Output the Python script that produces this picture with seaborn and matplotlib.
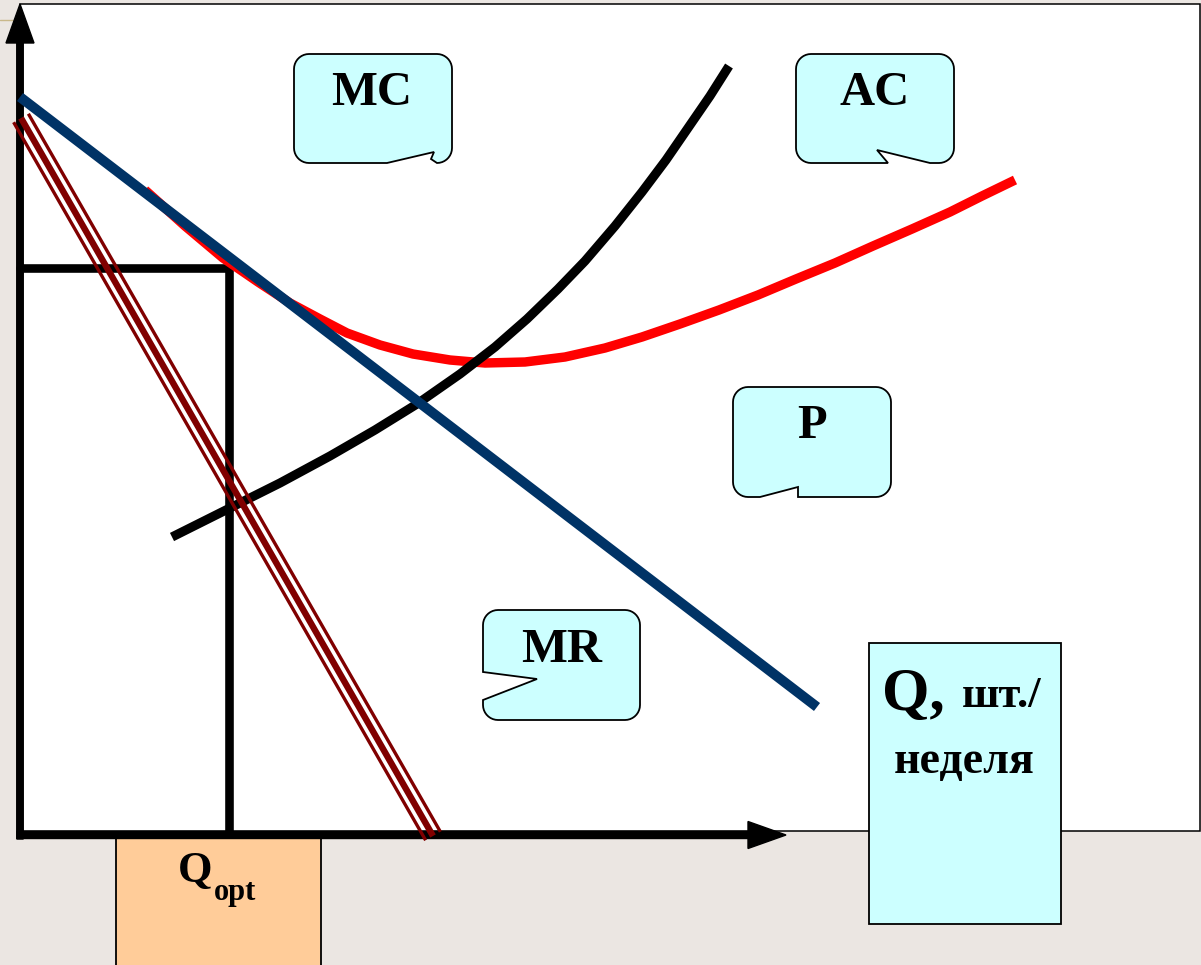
import numpy as np
import matplotlib
matplotlib.use("Agg")
import matplotlib.pyplot as plt
from matplotlib.patches import Polygon, Rectangle, FancyArrow
import seaborn as sns

## curve data: Q (quantity) on x, P (price) on y
demand_q = [0.0, 7.97]
demand_p = [7.37, 1.27]

mr_q = [0.01, 4.13]
mr_p = [7.16, -0.02]

mc_q = [1.52, 2.10, 2.60, 3.10, 3.55, 3.97, 4.40, 4.75, 5.07, 5.38, 5.65, 5.95, 6.22, 6.46, 6.68, 6.90, 7.09]
mc_p = [2.97, 3.26, 3.51, 3.78, 4.04, 4.30, 4.60, 4.87, 5.15, 5.45, 5.73, 6.08, 6.42, 6.74, 7.06, 7.38, 7.68]

ac_q = [1.25, 1.65, 2.03, 2.38, 2.70, 3.00, 3.27, 3.60, 3.93, 4.30, 4.65, 5.05, 5.45, 5.85, 6.22, 6.60,
        6.99, 7.38, 7.76, 8.15, 8.53, 8.92, 9.30, 9.62, 9.95]
ac_p = [6.44, 6.08, 5.76, 5.52, 5.31, 5.15, 5.01, 4.89, 4.80, 4.74, 4.71, 4.72, 4.77, 4.86, 4.97, 5.10,
        5.24, 5.39, 5.55, 5.71, 5.88, 6.05, 6.22, 6.38, 6.54]

q_opt = 2.09
p_opt = 5.66

box_labels = ["MC", "AC", "P", "MR"]

BEIGE = "#ebe6e2"
CYAN = "#ccffff"
ORANGE = "#ffcc99"
NAVY = "#003366"
MAROON = "#800000"


def px(x, y):
    # reference picture pixels -> data units (origin at the axes corner, 100 px per unit)
    return ((x - 20) / 100.0, (834 - y) / 100.0)


def callout(ax, x0, y0, x1, y1, bottom=(), left=(), r=15):
    pts = []

    def arc(cx, cy, a0, a1):
        for t in np.radians(np.linspace(a0, a1, 10)):
            pts.append((cx + r * np.cos(t), cy + r * np.sin(t)))

    arc(x0 + r, y0 + r, 180, 270)
    arc(x1 - r, y0 + r, 270, 360)
    arc(x1 - r, y1 - r, 0, 90)
    pts.extend(bottom)
    arc(x0 + r, y1 - r, 90, 180)
    pts.extend(left)
    poly = Polygon([px(*p) for p in pts], closed=True, fc=CYAN, ec="black", lw=1.3, zorder=6)
    ax.add_patch(poly)


sns.set_theme(style="white")
plt.rcParams['font.family'] = ['Liberation Serif', 'DejaVu Serif']
plt.rcParams['text.color'] = 'black'

fig = plt.figure(figsize=(12.01, 9.65), dpi=100)
fig.patch.set_facecolor(BEIGE)
ax = fig.add_axes([0, 0, 1, 1])
ax.set_xlim(-0.20, 11.81)
ax.set_ylim(-1.31, 8.34)
ax.axis("off")

## slide area
x0, y0 = px(20, 4)
x1, y1 = px(1200, 831)
ax.add_patch(Rectangle((x0, y1), x1 - x0, y0 - y1, fc="white", ec="black", lw=1.1, zorder=0))
ax.plot([px(0, 20)[0], px(13, 20)[0]], [px(0, 20)[1]] * 2, color="#c9b88a", lw=1, zorder=0)

## Q_opt box under the axis
bx0, by0 = px(116, 836)
bx1, by1 = px(321, 975)
ax.add_patch(Rectangle((bx0, by1), bx1 - bx0, by0 - by1, fc=ORANGE, ec="black", lw=1.3, zorder=1))

## axes with arrows
ax.add_patch(FancyArrow(0, -0.05, 0, 8.35, width=0.065, head_width=0.28, head_length=0.39,
                        length_includes_head=True, color="black", zorder=3))
ax.add_patch(FancyArrow(-0.03, -0.01, 7.69, 0, width=0.07, head_width=0.27, head_length=0.38,
                        length_includes_head=True, color="black", zorder=3))

## Q_opt / P_opt guide lines
sns.lineplot(x=[0, q_opt, q_opt], y=[p_opt, p_opt, 0], sort=False, estimator=None, ax=ax,
             color="black", linewidth=6.2, solid_joinstyle="miter", zorder=2)

## AC, MC, demand
sns.lineplot(x=ac_q, y=ac_p, sort=False, estimator=None, ax=ax, color="red", linewidth=6.8,
             solid_capstyle="butt", solid_joinstyle="round", zorder=3)
sns.lineplot(x=mc_q, y=mc_p, sort=False, estimator=None, ax=ax, color="black", linewidth=6.6,
             solid_capstyle="butt", solid_joinstyle="round", zorder=3)
sns.lineplot(x=demand_q, y=demand_p, sort=False, estimator=None, ax=ax, color=NAVY, linewidth=7.2,
             solid_capstyle="butt", zorder=4)

## MR as triple line
d = np.array([mr_q[1] - mr_q[0], mr_p[1] - mr_p[0]])
n = np.array([-d[1], d[0]]) / np.hypot(*d)
for k, lw in [(0, 4.6), (0.085, 2.4), (-0.085, 2.4)]:
    sns.lineplot(x=np.array(mr_q) + k * n[0], y=np.array(mr_p) + k * n[1], sort=False, estimator=None,
                 ax=ax, color=MAROON, linewidth=lw, solid_capstyle="butt", zorder=5)

## callouts
callout(ax, 294, 54, 452, 163, bottom=[(431, 159), (434, 152), (387, 163)])
callout(ax, 796, 54, 954, 163, bottom=[(930, 163), (877, 150), (888, 163)])
callout(ax, 733, 387, 891, 497, bottom=[(798, 497), (798, 487), (760, 497)])
callout(ax, 483, 610, 640, 720, left=[(483, 700), (537, 679), (483, 672)])

label_pos = [(372, 105), (875, 105), (812, 438), (562, 662)]
for lab, (lx, ly) in zip(box_labels, label_pos):
    ax.text(*px(lx, ly), lab, fontsize=35, fontweight="bold", color="black",
            ha="center", va="baseline", zorder=7)

## Q box on the right
qx0, qy0 = px(869, 643)
qx1, qy1 = px(1061, 924)
ax.add_patch(Rectangle((qx0, qy1), qx1 - qx0, qy0 - qy1, fc=CYAN, ec="black", lw=1.3, zorder=6))
ax.text(*px(882, 710), "Q,", fontsize=44, fontweight="bold", color="black", ha="left", va="baseline", zorder=7)
ax.text(*px(962, 707), "шт./", fontsize=32, fontweight="bold", color="black", ha="left", va="baseline", zorder=7)
ax.text(*px(964, 773), "неделя", fontsize=33, fontweight="bold", color="black", ha="center", va="baseline", zorder=7)

## Q_opt label
ax.text(*px(178, 882), "Q", fontsize=32, fontweight="bold", color="black", ha="left", va="baseline", zorder=7)
ax.text(*px(214, 900), "opt", fontsize=22, fontweight="bold", color="black", ha="left", va="baseline", zorder=7)

fig.savefig("out.png", dpi=100, facecolor=fig.get_facecolor())
